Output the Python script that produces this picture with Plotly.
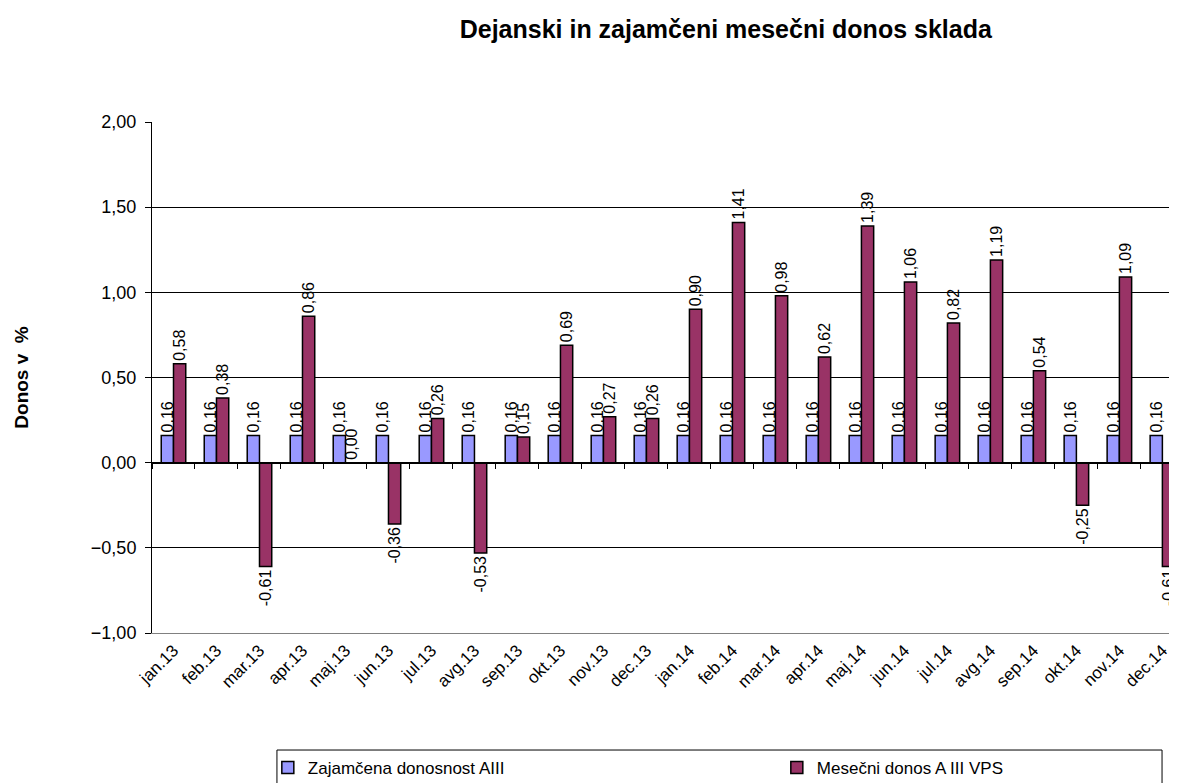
import plotly.graph_objects as go

categories = ["jan.13", "feb.13", "mar.13", "apr.13", "maj.13", "jun.13", "jul.13", "avg.13",
              "sep.13", "okt.13", "nov.13", "dec.13", "jan.14", "feb.14", "mar.14", "apr.14",
              "maj.14", "jun.14", "jul.14", "avg.14", "sep.14", "okt.14", "nov.14", "dec.14"]
zajamcena = [0.16] * 24
mesecni = [0.58, 0.38, -0.61, 0.86, 0.00, -0.36, 0.26, -0.53, 0.15, 0.69, 0.27, 0.26,
           0.90, 1.41, 0.98, 0.62, 1.39, 1.06, 0.82, 1.19, 0.54, -0.25, 1.09, -0.61]
y_ticks = [-1.0, -0.5, 0.0, 0.5, 1.0, 1.5, 2.0]

FONT = "Liberation Sans, Arial, sans-serif"

fig = go.Figure()
fig.add_trace(go.Bar(
    x=categories, y=zajamcena, name="Zajamčena donosnost AIII",
    marker=dict(color="#9999FF", line=dict(color="black", width=1.5)),
    texttemplate="%{y:.2f}", textposition="outside", textangle=-90,
    textfont=dict(family=FONT, size=16, color="black"), constraintext="none",
    cliponaxis=False,
))
fig.add_trace(go.Bar(
    x=categories, y=mesecni, name="Mesečni donos A III VPS",
    marker=dict(color="#993366", line=dict(color="black", width=1.5)),
    texttemplate="%{y:.2f}", textposition="outside", textangle=-90,
    textfont=dict(family=FONT, size=16, color="black"), constraintext="none",
    cliponaxis=False,
))
# helper trace for the category tick axis drawn at y = 0
fig.add_trace(go.Scatter(x=categories, y=[None] * len(categories), xaxis="x2",
                         showlegend=False, hoverinfo="skip", mode="markers"))

# the page body adds an 8px offset, so the figure is 8px smaller than the window
fig.update_layout(
    width=1169, height=775,
    paper_bgcolor="white", plot_bgcolor="white",
    separators=",.",
    font=dict(family=FONT, size=17, color="black"),
    margin=dict(l=144, r=0, t=114, b=150, autoexpand=False),
    barmode="group", bargap=0.43, bargroupgap=0,
    title=dict(text="<b>Dejanski in zajamčeni mesečni donos sklada</b>",
               x=0.614, xanchor="center", y=0.972, yanchor="middle",
               font=dict(family=FONT, size=25, color="black")),
    xaxis=dict(type="category", range=[-0.5, 23.34], tickangle=-45,
               showline=True, linecolor="#808080", linewidth=1,
               ticks="", showgrid=False, automargin=False,
               tickfont=dict(family=FONT, size=17, color="black")),
    xaxis2=dict(type="category", overlaying="x", matches="x", anchor="free",
                position=1 / 3, side="bottom", showline=True, linecolor="black",
                linewidth=1, ticks="outside", ticklen=5, tickcolor="black",
                tickson="boundaries", showticklabels=False, showgrid=False),
    yaxis=dict(range=[-1, 2], tickvals=y_ticks, tickformat=".2f",
               showline=True, linecolor="black", linewidth=1,
               ticks="outside", ticklen=6, tickcolor="black",
               ticklabelstandoff=5,
               showgrid=True, gridcolor="black", gridwidth=1,
               zeroline=False, automargin=False,
               tickfont=dict(family=FONT, size=18, color="black"),
               title=dict(text="<b>Donos v\u00a0\u00a0%</b>", standoff=57,
                          font=dict(family=FONT, size=19, color="black"))),
    legend=dict(orientation="h", x=0.113, y=-0.229, xanchor="left", yanchor="top",
                borderwidth=0, bgcolor="rgba(0,0,0,0)",
                entrywidth=464, entrywidthmode="pixels",
                font=dict(family=FONT, size=17, color="black")),
    showlegend=True,
    shapes=[dict(type="rect", xref="paper", yref="paper",
                 x0=0.1219, x1=0.9854, y0=-0.229, y1=-0.32,
                 line=dict(color="black", width=1), fillcolor="rgba(0,0,0,0)",
                 layer="below")],
)

fig.write_html("out.html")
